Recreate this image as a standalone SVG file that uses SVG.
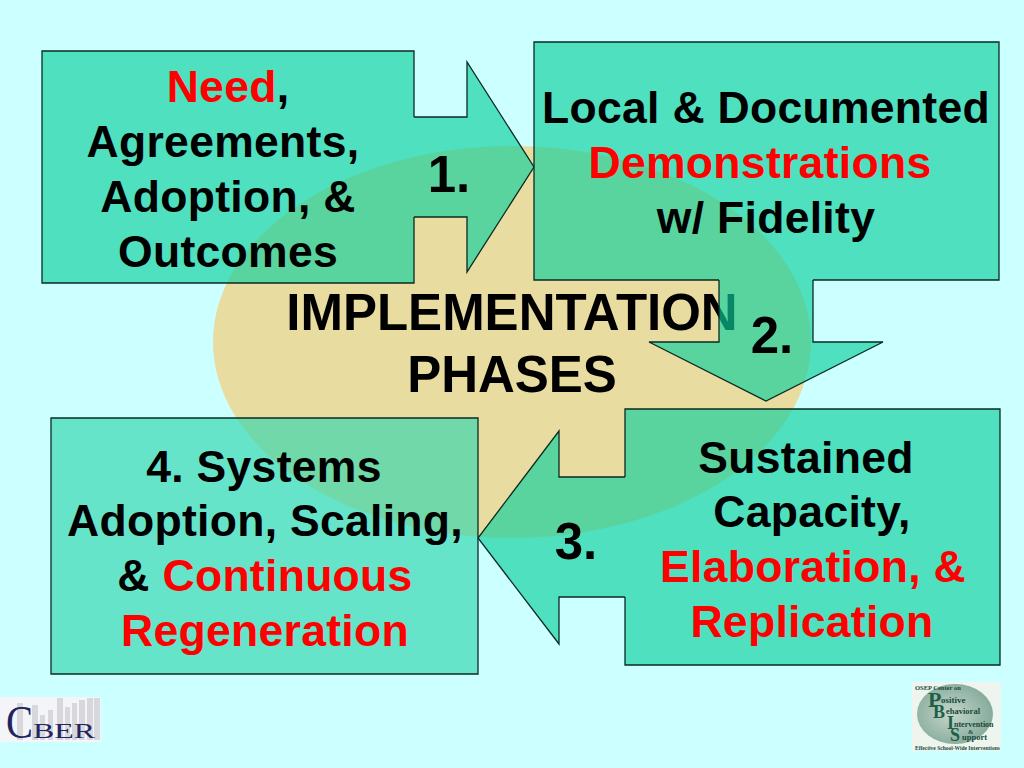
<svg xmlns="http://www.w3.org/2000/svg" width="1024" height="768" viewBox="0 0 1024 768">
<style>
text{font-family:"Liberation Sans",Arial,sans-serif;font-weight:700;font-size:44.5px;letter-spacing:.3px;fill:#000;text-anchor:middle}
.r{fill:#f00}
.big{font-size:51px;letter-spacing:0}
.f{fill:#0dcf9e;fill-opacity:.65;stroke:none}
.f4{fill:#2fd6ae;fill-opacity:.65;stroke:none}
.l{fill:none;stroke:#0a2a22;stroke-width:1.3}
.b{fill:#d8d8dc}
.lg{font-family:"Liberation Serif",serif;fill:#23235f;font-weight:400;text-anchor:start;letter-spacing:0}
.p{font-family:"Liberation Serif",serif;fill:#1a4a3a;text-anchor:start;font-size:7.5px;font-weight:700;letter-spacing:0}
.pb{font-family:"Liberation Serif",serif;fill:#1f5f45;text-anchor:start;font-size:20px;font-weight:700;letter-spacing:0}
</style>
<defs>
<radialGradient id="pg" cx=".45" cy=".5" r=".6"><stop offset="0" stop-color="#c5d6cc"/><stop offset="1" stop-color="#7fa797"/></radialGradient>
</defs>
<rect width="1024" height="768" fill="#ccffff"/>
<g id="center">
<ellipse cx="512" cy="342" rx="299" ry="196" fill="#e8dca0"/>
<text class="big" x="512" y="330">IMPLEMENTATION</text>
<text class="big" x="512" y="392">PHASES</text>
</g>
<g id="connectors">
<path class="f" d="M414 117H467V62L534 167L467 272V217H414Z"/>
<path class="l" d="M414 117H467V62L534 167L467 272V217H414"/>
<path class="f" d="M813 280V342H883L766 401L649 342H719V280Z"/>
<path class="l" d="M813 280V342H883L766 401L649 342H719V280"/>
<path class="f" d="M625 477H559V431L478 538L559 644V597H625Z"/>
<path class="l" d="M625 477H559V431L478 538L559 644V597H625"/>
<text class="big" x="449" y="192">1.</text>
<text class="big" x="772" y="353">2.</text>
<text class="big" x="576" y="559">3.</text>
</g>
<g id="need">
<path class="f" d="M42 51H414V283H42Z"/>
<path class="l" d="M414 117V51H42V283H414V217"/>
<text x="228" y="102"><tspan class="r">Need</tspan>,</text>
<text x="223" y="157">Agreements,</text>
<text x="228" y="212">Adoption, &amp;</text>
<text x="228" y="267">Outcomes</text>
</g>
<g id="demonstrations">
<path class="f" d="M534 42H999V280H534Z"/>
<path class="l" d="M719 280H534V42H999V280H813"/>
<text x="766" y="123">Local &amp; Documented</text>
<text x="760" y="178" class="r">Demonstrations</text>
<text x="766" y="233">w/ Fidelity</text>
</g>
<g id="sustained">
<path class="f" d="M625 409H1000V665H625Z"/>
<path class="l" d="M625 477V409H1000V665H625V597"/>
<text x="806" y="473">Sustained</text>
<text x="812" y="527">Capacity,</text>
<text x="813" y="582" class="r">Elaboration, &amp;</text>
<text x="812" y="637" class="r">Replication</text>
</g>
<g id="systems">
<path class="f4" d="M51 418H478V674H51Z"/>
<path class="l" d="M51 418H478V674H51Z"/>
<text x="264" y="482">4. Systems</text>
<text x="265" y="536">Adoption, Scaling,</text>
<text x="265" y="591">&amp; <tspan class="r">Continuous</tspan></text>
<text x="265" y="646" class="r">Regeneration</text>
</g>
<g id="cber-logo">
<rect x="0" y="697" width="101" height="45" fill="#f3f5f8"/>
<rect class="b" x="17" y="703" width="6" height="37"/><rect class="b" x="32" y="705" width="6" height="35"/>
<rect class="b" x="40" y="715" width="5" height="25"/><rect class="b" x="48" y="710" width="5" height="30"/>
<rect class="b" x="57" y="698" width="6" height="42"/><rect class="b" x="65" y="707" width="5" height="33"/>
<rect class="b" x="72" y="703" width="5" height="37"/><rect class="b" x="79" y="700" width="6" height="40"/>
<rect class="b" x="87" y="698" width="6" height="42"/><rect class="b" x="94" y="698" width="6" height="42"/>
<text class="lg" x="6" y="738" textLength="27" lengthAdjust="spacingAndGlyphs" style="font-size:46px">C</text>
<text class="lg" x="33" y="738" textLength="62" lengthAdjust="spacingAndGlyphs" style="font-size:20px">BER</text>
</g>
<g id="pbis-logo">
<rect x="912" y="682" width="89" height="69" fill="#eef5ee"/>
<ellipse cx="955" cy="714" rx="38" ry="30" fill="url(#pg)"/>
<text class="p" x="915" y="690" style="font-size:6.5px">OSEP Center on</text>
<text class="pb" x="928" y="707" style="font-size:22px">P</text><text class="p" x="941" y="703" style="font-size:9px">ositive</text>
<text class="pb" x="933" y="718" style="font-size:18px">B</text><text class="p" x="946" y="714" style="font-size:8.5px">ehavioral</text>
<text class="pb" x="947" y="729" style="font-size:18px">I</text><text class="p" x="954" y="727" style="font-size:8px">ntervention</text>
<text class="p" x="968" y="734" style="font-size:6.5px">&amp;</text>
<text class="pb" x="950" y="741" style="font-size:18px">S</text><text class="p" x="962" y="740" style="font-size:8.5px">upport</text>
<text class="p" x="915" y="750" style="font-size:5.5px">Effective School-Wide Interventions</text>
</g>
</svg>
